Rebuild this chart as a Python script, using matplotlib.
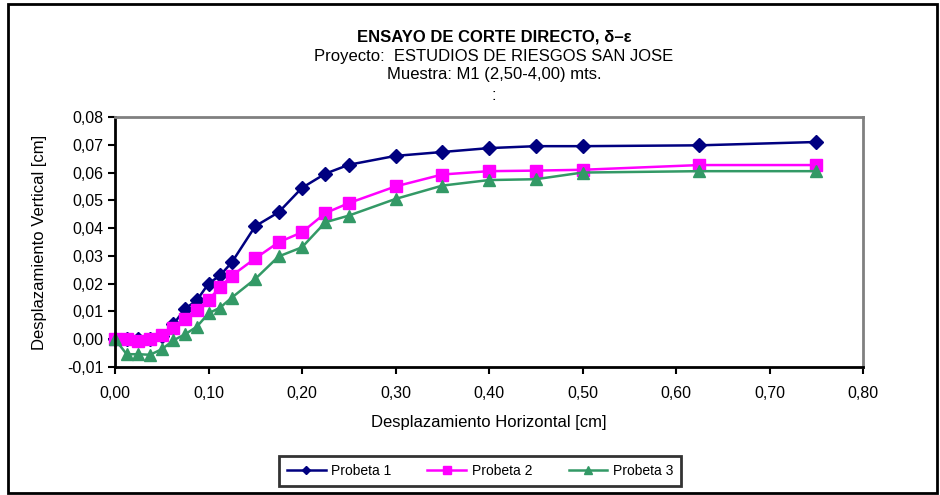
import matplotlib
matplotlib.use("Agg")
import matplotlib.pyplot as plt
from matplotlib.ticker import FuncFormatter

plt.rcParams['font.family'] = ['Liberation Sans', 'DejaVu Sans']

# desplazamiento horizontal [cm]
x_h = [0.0, 0.0125, 0.025, 0.0375, 0.05, 0.0625, 0.075, 0.0875, 0.1, 0.1125,
       0.125, 0.15, 0.175, 0.2, 0.225, 0.25, 0.3, 0.35, 0.4, 0.45, 0.5,
       0.625, 0.75]

# desplazamiento vertical [cm]
probeta_1 = [0.0, 0.0, 0.0, 0.0, 0.001, 0.0054, 0.011, 0.014, 0.020, 0.023,
             0.0277, 0.0407, 0.0457, 0.0545, 0.0596, 0.0628, 0.066, 0.0674,
             0.0688, 0.0695, 0.0695, 0.0698, 0.071]
probeta_2 = [0.0, 0.0, -0.0005, 0.0, 0.0016, 0.004, 0.0072, 0.0105, 0.0142,
             0.0187, 0.0229, 0.0291, 0.0349, 0.0385, 0.0454, 0.049, 0.055,
             0.0593, 0.0605, 0.0607, 0.0610, 0.0627, 0.0627]
probeta_3 = [0.0, -0.0054, -0.0054, -0.0056, -0.0036, -0.0004, 0.0018, 0.0045,
             0.0093, 0.0114, 0.015, 0.0217, 0.0298, 0.0331, 0.0421, 0.0445,
             0.0505, 0.0553, 0.0573, 0.0576, 0.0600, 0.0605, 0.0605]

series = [("Probeta 1", probeta_1, "#000080", "D", 7.5),
          ("Probeta 2", probeta_2, "#FF00FF", "s", 8.5),
          ("Probeta 3", probeta_3, "#339966", "^", 9)]

fig = plt.figure(figsize=(9.4, 4.95), dpi=100)
ax = fig.add_axes([115/940, 1 - 367/495, (863 - 115)/940, (367 - 117)/495])

for nombre, y, col, mk, ms in series:
    ax.plot(x_h, y, color=col, marker=mk, markersize=ms, linewidth=1.8,
            label=nombre, clip_on=False)

ax.set_xlim(0, 0.8)
ax.set_ylim(-0.01, 0.08)
ax.set_xticks([i * 0.1 for i in range(9)])
ax.set_yticks([i * 0.01 - 0.01 for i in range(10)])
coma = FuncFormatter(lambda v, p: f"{v:.2f}".replace(".", ",").replace("-0,00", "0,00"))
ax.xaxis.set_major_formatter(coma)
ax.yaxis.set_major_formatter(coma)
ax.tick_params(labelsize=11.5, length=5, width=1.5, color="black")
ax.tick_params(axis="x", pad=9)

for s in ("left", "bottom"):
    ax.spines[s].set_color("black")
    ax.spines[s].set_linewidth(2)
for s in ("top", "right"):
    ax.spines[s].set_color("#808080")
    ax.spines[s].set_linewidth(2)

ax.set_xlabel("Desplazamiento Horizontal [cm]", fontsize=12, labelpad=10)
ax.set_ylabel("Desplazamiento Vertical [cm]", fontsize=12, labelpad=14)

tx = 494 / 940
fig.text(tx, 1 - 37/495, "ENSAYO DE CORTE DIRECTO, δ–ε", ha="center", va="center",
         fontsize=12, fontweight="bold")
fig.text(tx, 1 - 56/495, "Proyecto:  ESTUDIOS DE RIESGOS SAN JOSE", ha="center",
         va="center", fontsize=12)
fig.text(tx, 1 - 75/495, "Muestra: M1 (2,50-4,00) mts.", ha="center", va="center",
         fontsize=12)
fig.text(tx, 1 - 96/495, ":", ha="center", va="center", fontsize=12)

leg = fig.legend(loc="center", bbox_to_anchor=(480/940, 1 - 471/495), ncol=3,
                 fontsize=10, frameon=True, fancybox=False, edgecolor="black",
                 handlelength=2.8, columnspacing=2.6, markerscale=0.6,
                 borderpad=0.55, handletextpad=0.4)
leg.get_frame().set_linewidth(2)

# marco exterior
borde = plt.Rectangle((8/940, 2/495), 929/940, 489/495, transform=fig.transFigure,
                      fill=False, edgecolor="black", linewidth=2)
fig.patches.append(borde)

fig.savefig("out.png", dpi=100)
